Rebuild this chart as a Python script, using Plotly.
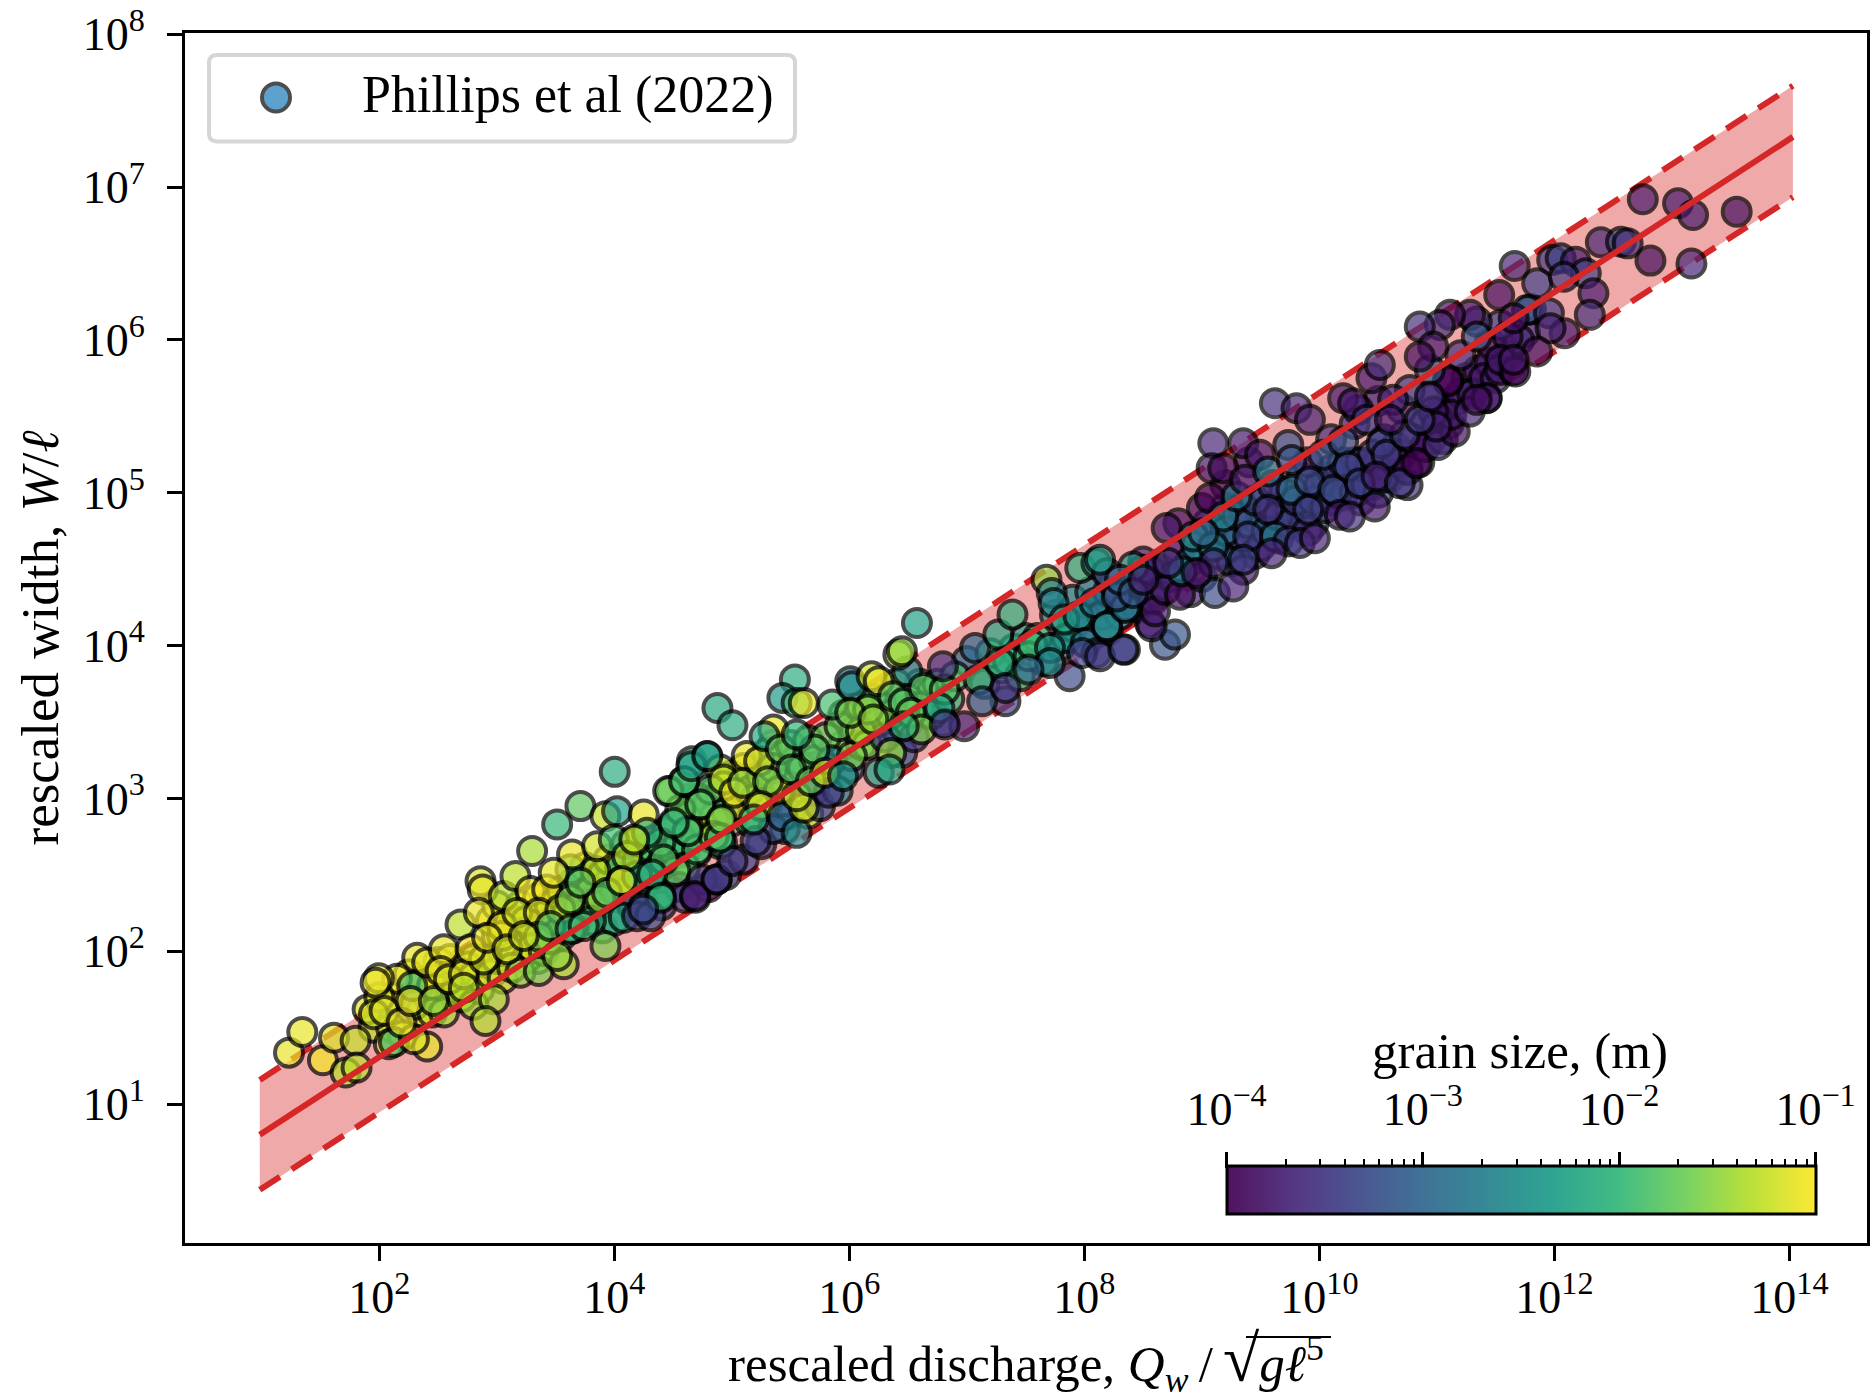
import numpy as np
import plotly.graph_objects as go

FONT = "Liberation Serif"

x_ticks = [1e2, 1e4, 1e6, 1e8, 1e10, 1e12, 1e14]
x_labels = ["10<sup>2</sup>", "10<sup>4</sup>", "10<sup>6</sup>", "10<sup>8</sup>", "10<sup>10</sup>", "10<sup>12</sup>", "10<sup>14</sup>"]
y_ticks = [1e1, 1e2, 1e3, 1e4, 1e5, 1e6, 1e7, 1e8]
y_labels = ["10<sup>1</sup>", "10<sup>2</sup>", "10<sup>3</sup>", "10<sup>4</sup>", "10<sup>5</sup>", "10<sup>6</sup>", "10<sup>7</sup>", "10<sup>8</sup>"]
grain_ticks = [1e-4, 1e-3, 1e-2, 1e-1]
grain_labels = ["10<sup>\u22124</sup>", "10<sup>\u22123</sup>", "10<sup>\u22122</sup>", "10<sup>\u22121</sup>"]
grain_minor = [k * d for d in (1e-4, 1e-3, 1e-2) for k in (2, 3, 4, 5, 6, 7, 8, 9)]

fit_q = [9.6, 1.07e14]
fit_mid = [6.3, 2.13e7]
fit_hi = [14.4, 4.6e7]
fit_lo = [2.75, 8.6e6]

viridis = ["#440154", "#482878", "#3e4989", "#31688e", "#26828e", "#1f9e89", "#35b779", "#6ece58", "#b5de2b", "#fde725"]

# Points hidden deepest in the dense parts of the cloud (drawn first)
deep_q = [
 8.9,9.0,9.1,9.2,9.25,9.3,9.35,9.45,9.5,9.55,
 9.6,9.65,9.7,9.75,9.85,9.85,9.95,10.0,10.05,10.1,
 10.15,10.2,10.25,10.3,10.35,10.4,10.45,10.5,10.55,10.6,
 10.65,10.7,10.75,10.85,10.9,10.95,11.05,11.1,11.15,11.25,
 11.35,11.45,11.6,11.75,
 1.95,2.1,2.2,2.35,2.4,2.55,2.6,2.7,2.8,2.9,
 3.0,3.05,3.15,3.2,3.3,3.35,3.4,3.5,3.55,3.65,
 3.75,3.85,3.9,3.95,4.05,4.1,4.2,4.25,4.35,4.4,
 4.45,4.55,4.6,4.65,4.7,4.8,4.85,4.9,5.0,5.05,
 5.15,5.2,5.3,5.35,5.45,5.5,5.55,5.65,5.7,5.8,
 5.95,6.0,6.1,6.15,6.3,6.4,6.45,6.5,6.6,6.7,
 6.8,
 7.0,7.15,7.3,7.4,7.5,7.65,7.8,7.9,8.0,8.1,
 8.2,8.35,
]
deep_w = [
 4.35,4.6,4.7,4.9,4.65,4.7,4.9,4.6,4.85,5.0,
 4.9,4.7,4.78,4.9,4.85,5.1,4.8,4.95,5.1,4.95,
 5.1,4.98,5.1,5.2,4.95,5.15,5.05,5.2,5.35,5.1,
 5.3,5.25,5.05,5.2,5.45,5.35,5.55,5.45,5.6,5.75,
 5.8,5.85,5.9,6.05,
 1.5,1.5,1.45,1.6,1.72,1.85,1.7,1.85,1.95,1.95,
 2.1,2.0,2.2,2.1,2.15,1.95,2.15,2.32,2.1,2.35,
 2.25,2.45,2.35,2.45,2.35,2.55,2.4,2.55,2.65,2.48,
 2.6,2.85,2.65,3.0,2.65,2.75,3.05,2.7,2.85,3.1,
 2.85,3.15,2.95,3.35,3.1,2.9,3.25,2.9,3.05,3.2,
 3.35,3.2,3.35,3.55,3.6,3.45,3.3,3.5,3.75,3.7,
 3.5,
 3.9,3.75,3.85,3.98,4.05,3.9,4.0,4.12,4.1,4.25,
 4.1,4.3,
]
deep_d = [
 -3.7,-3.3,-3.2,-2.8,-3.5,-3.3,-3.2,-3.5,-3.4,-3.3,
 -3.2,-3.4,-3.3,-3.3,-3.5,-3.3,-3.4,-3.3,-3.4,-3.4,
 -3.5,-3.4,-3.4,-3.3,-3.6,-3.3,-3.5,-3.5,-3.4,-3.8,
 -3.5,-3.6,-3.6,-3.9,-3.8,-3.6,-3.7,-3.8,-3.7,-3.8,
 -3.8,-3.8,-3.9,-3.6,
 -1.3,-1.2,-1.1,-1.1,-1.1,-1.05,-1.1,-1.05,-1.1,-1.05,
 -1.1,-1.2,-1.15,-1.2,-1.1,-1.5,-1.3,-1.2,-1.7,-1.6,
 -1.8,-1.7,-2.0,-1.8,-2.0,-1.9,-2.2,-1.9,-1.8,-2.1,
 -1.9,-1.9,-2.0,-1.8,-1.8,-1.7,-1.8,-1.9,-1.8,-1.6,
 -1.9,-1.4,-1.3,-1.2,-1.7,-3.0,-1.7,-1.3,-3.4,-1.4,
 -1.6,-3.0,-1.6,-1.7,-1.5,-2.4,-3.2,-1.7,-1.8,-1.7,
 -3.4,
 -3.0,-3.2,-2.1,-2.1,-2.3,-2.6,-2.6,-2.6,-2.8,-2.7,
 -3.3,-3.2,
]

# Points hidden in the dense parts of the cloud (drawn next)
under_q = [
 2.25,2.36,2.45,2.5,2.6,2.65,2.75,2.8,2.85,2.95,
 3.0,3.05,3.1,3.15,3.25,3.3,3.4,3.45,2.95,3.0,
 3.1,3.2,3.25,3.35,3.45,3.5,3.55,3.6,3.65,3.7,
 3.75,3.8,3.85,3.9,3.95,4.0,4.05,4.1,4.12,4.2,
 4.28,4.3,4.38,4.45,4.5,4.55,4.6,4.62,4.68,4.72,
 4.75,4.8,4.85,4.9,4.95,5.0,5.05,5.1,5.15,5.2,
 5.25,5.3,5.35,5.4,5.45,5.5,5.6,5.65,5.7,5.75,
 5.8,5.85,5.9,5.95,6.05,6.1,6.15,6.2,6.25,6.3,
 6.35,6.4,6.5,6.55,6.6,6.7,6.75,6.85,6.9,
 7.2,7.35,7.45,7.6,7.75,7.85,7.9,8.0,8.05,8.15,
 8.2,8.3,8.4,8.45,8.5,8.6,8.65,8.75,8.8,8.9,
 8.95,9.0,9.05,9.15,9.2,9.25,9.3,9.4,9.45,9.5,
 9.55,9.65,9.7,9.75,9.8,9.9,9.95,10.0,10.05,10.1,
 10.15,10.2,10.3,10.35,10.4,10.45,10.5,10.55,10.65,10.75,
 10.8,10.9,11.0,11.05,11.2,11.3,11.4,11.5,11.7,11.45,
 11.2,11.8,10.7,10.5,10.3,10.1,9.9,9.6,9.4,9.2,
 9.0,8.8,4.4,4.55,4.6,4.8,4.95,5.1,5.25,5.35,
 3.9,4.0,4.15,3.8,3.65,1.9,2.1,2.15,2.0,2.3,
 2.45,2.55,2.7,2.8,
]
under_w = [
 1.85,1.80,1.78,1.93,1.95,1.75,1.9,1.83,1.75,1.85,
 1.95,1.82,2.05,1.98,1.95,2.02,2.0,2.08,2.2,2.3,
 2.18,2.3,2.2,2.35,2.3,2.2,2.4,2.25,2.45,2.3,
 2.55,2.4,2.3,2.5,2.6,2.4,2.55,2.7,2.4,2.6,
 2.45,2.68,2.55,2.78,2.66,2.72,2.55,2.88,2.75,3.0,
 2.85,2.98,2.88,3.02,2.92,3.15,2.95,3.2,3.05,3.0,
 3.15,3.3,3.2,3.05,2.8,3.35,3.2,3.38,3.25,2.95,
 3.4,3.25,3.05,3.55,3.45,3.6,3.35,3.65,3.5,3.4,
 3.55,3.75,3.65,3.4,3.6,3.55,3.75,3.65,3.8,
 3.95,3.9,3.8,4.05,4.2,4.05,4.3,4.2,4.35,4.2,
 4.35,4.2,4.4,4.25,4.55,4.35,4.5,4.45,4.6,4.55,
 4.65,4.45,4.8,4.6,4.75,4.55,4.85,4.8,4.95,4.65,
 4.75,4.85,5.0,4.8,4.95,4.75,4.95,5.05,4.9,5.15,
 5.0,5.2,5.0,5.2,5.05,5.25,5.0,5.1,5.2,5.15,
 5.35,5.3,5.5,5.35,5.65,5.65,5.75,5.75,6.0,5.98,
 5.9,6.2,5.55,5.6,5.45,5.35,5.2,5.05,5.2,5.05,
 4.9,4.8,2.3,2.42,2.35,2.42,2.5,2.6,2.7,2.8,
 2.15,2.2,2.3,2.2,2.15,1.62,1.7,1.82,1.7,1.65,
 1.6,1.6,1.7,1.65,
]
under_d = [
 -1.1,-1.05,-1.15,-1.1,-1.1,-1.2,-1.1,-1.15,-1.3,-1.2,
 -1.1,-1.25,-1.1,-1.2,-1.4,-1.15,-1.5,-1.6,-1.05,-1.1,
 -1.05,-1.1,-1.15,-1.1,-1.2,-1.5,-1.4,-1.7,-1.9,-1.6,
 -1.4,-1.5,-1.6,-1.3,-1.2,-1.9,-2.0,-1.9,-1.8,-2.0,
 -2.2,-1.8,-1.9,-1.8,-2.0,-1.9,-1.8,-1.7,-1.8,-1.6,
 -1.1,-1.7,-1.3,-1.6,-1.9,-1.2,-1.1,-1.1,-1.3,-1.4,
 -1.5,-1.8,-1.6,-1.2,-2.5,-1.9,-1.8,-1.7,-1.7,-3.3,
 -1.7,-2.5,-2.8,-1.8,-1.6,-1.5,-1.6,-1.9,-1.6,-3.4,
 -1.6,-1.7,-1.7,-3.5,-1.8,-2.0,-1.8,-2.0,-1.9,
 -1.9,-2.1,-2.0,-2.0,-2.5,-2.4,-2.6,-2.8,-2.7,-2.9,
 -3.2,-2.9,-3.2,-3.5,-3.6,-3.7,-3.8,-3.7,-3.8,-2.8,
 -2.7,-3.4,-2.9,-2.8,-2.9,-3.2,-3.6,-3.1,-3.3,-3.5,
 -3.1,-3.4,-3.3,-3.4,-3.4,-3.6,-3.4,-3.4,-3.5,-3.4,
 -3.3,-3.3,-3.5,-3.5,-3.4,-3.5,-3.4,-3.5,-3.7,-3.9,
 -3.6,-3.9,-3.8,-3.8,-3.8,-3.7,-3.8,-3.7,-3.7,-3.9,
 -3.6,-3.7,-3.6,-3.7,-3.6,-3.6,-3.7,-3.5,-3.8,-3.9,
 -3.9,-3.9,-3.5,-3.6,-3.5,-3.5,-3.4,-3.4,-3.5,-3.3,
 -2.3,-2.1,-3.3,-2.0,-2.1,-1.15,-1.2,-1.1,-1.15,-1.5,
 -1.3,-1.4,-1.4,-1.4,
]

# log10 of the values, row by row in the three lists
log_q = [
 1.231,1.344,1.52,1.614,1.798,1.713,1.806,2.081,2.124,2.407,
 2.294,1.954,1.996,1.968,2.044,2.189,2.28,2.266,2.464,2.322,
 2.407,2.549,2.521,2.592,2.719,2.889,2.719,2.974,2.903,3.13,
 3.2,3.357,2.861,2.88,2.691,2.847,3.059,3.158,3.3,3.286,
 3.428,3.045,3.045,3.173,3.357,3.357,3.541,3.626,3.64,3.513,
 3.711,4.003,3.924,4.023,4.25,3.839,3.853,4.179,4.066,3.995,
 3.626,3.881,3.569,3.924,4.08,4.25,4.391,4.335,4.519,4.746,
 4.873,4.689,4.477,4.59,4.732,4.618,4.902,4.505,4.391,4.66,
 4.788,4.902,4.93,4.916,2.776,2.917,3.088,3.229,3.456,3.626,
 3.739,3.513,3.938,4.193,3.711,3.484,4.108,4.278,4.42,4.703,
 4.845,4.817,4.561,4.193,4.306,
 4.169,4.321,4.063,4.397,4.245,4.686,4.868,5.005,5.202,4.898,
 4.625,4.504,4.458,4.595,4.655,4.792,4.731,4.929,4.914,5.02,
 5.126,5.096,5.232,5.354,5.278,5.415,5.308,5.506,5.247,5.703,
 5.551,5.187,5.43,5.551,5.612,5.551,5.824,5.673,5.794,5.916,
 5.855,5.536,5.43,5.551,5.612,4.877,5.005,6.022,5.946,6.007,
 6.022,6.189,6.25,6.098,6.159,6.007,6.204,6.356,6.25,6.341,
 6.371,6.493,6.417,6.447,6.575,6.462,6.629,6.811,6.523,6.614,
 6.462,6.766,6.796,6.978,6.812,7.099,7.07,7.267,7.388,7.282,
 7.328,7.13,7.328,7.525,7.555,7.707,7.677,7.874,7.965,7.722,
 7.738,7.829,7.95,8.011,8.102,8.345,7.98,8.193,8.36,8.087,
 8.284,8.558,8.497,8.102,8.558,8.588,8.193,7.707,7.525,
 8.133,8.331,8.686,8.771,8.572,8.601,8.19,8.346,8.275,8.416,
 8.133,8.686,8.813,8.827,8.70,8.714,8.927,9.097,9.352,9.083,
 9.182,9.068,9.182,9.295,9.366,9.494,9.564,9.735,9.763,9.097,
 9.097,9.352,9.111,9.267,9.394,9.352,9.564,9.621,9.735,9.834,
 9.961,9.593,9.763,9.919,9.904,10.117,10.032,10.202,10.245,10.174,
 10.259,10.471,10.344,10.528,10.57,10.486,10.684,10.826,10.727,11.01,
 11.152,11.123,11.279,11.421,10.953,11.095,10.769,10.33,10.202,10.443,
 10.514,9.621,9.805,9.919,10.967,10.996,10.854,11.534,11.648,10.627,
 10.287,10.401,10.599,8.955,9.012,8.303,8.416,8.501,
 13.551,12.752,13.052,13.18,13.166,12.817,12.395,12.566,12.623,11.662,
 11.981,12.053,12.181,12.267,11.853,12.081,12.332,11.53,11.767,11.953,
 12.301,12.087,11.967,11.853,11.539,11.339,11.282,11.339,11.602,11.539,
 11.667,11.653,11.111,11.025,10.854,11.097,10.94,10.94,11.425,10.968,
 10.854,11.339,11.653,
]
log_w = [
 1.337,1.472,1.287,1.435,1.414,1.207,1.239,1.392,1.407,1.377,
 1.425,1.588,1.823,1.795,1.61,1.533,1.773,1.675,1.675,1.958,
 1.926,2.013,1.871,1.817,1.849,1.947,1.762,1.686,1.544,1.893,
 1.86,1.871,2.459,2.405,2.176,2.252,2.361,2.492,2.656,2.394,
 2.405,2.1,2.165,2.252,2.252,2.096,2.274,2.536,2.634,2.83,
 2.95,3.174,2.884,2.917,2.895,2.525,2.688,2.721,2.459,2.732,
 2.34,2.34,1.915,2.035,2.22,2.296,2.361,2.514,2.525,2.47,
 2.47,2.35,3.048,3.113,2.96,2.786,2.852,2.83,2.71,3.244,
 3.276,3.19,3.08,2.71,2.013,2.089,2.013,2.1,2.165,2.144,
 2.165,1.969,2.383,2.492,2.449,2.514,2.623,2.775,2.6,2.666,
 2.754,3.059,2.928,2.23,2.23,
 2.732,2.503,2.46,2.351,2.274,2.362,2.47,2.59,2.721,2.743,
 2.786,2.841,3.048,3.113,3.211,3.277,2.961,3.124,2.863,3.037,
 3.277,3.102,3.244,3.451,3.407,3.32,3.113,3.19,2.95,3.32,
 3.418,2.862,2.884,2.775,2.939,3.015,3.037,3.113,3.168,3.473,
 3.614,3.778,3.658,3.625,3.625,3.592,3.479,3.277,3.146,3.767,
 3.734,3.8,3.767,3.44,3.582,3.56,3.516,3.298,3.168,3.19,
 3.669,3.832,3.941,3.963,4.148,3.625,3.723,3.712,3.56,3.451,
 3.473,3.592,3.865,3.473,3.484,3.778,3.985,4.072,4.203,3.887,
 3.636,3.636,3.723,3.93,4.006,3.985,4.431,3.8,4.508,4.344,
 4.279,4.17,4.192,4.017,3.952,3.974,3.952,4.126,4.257,4.279,
 4.344,4.148,4.497,4.54,4.497,4.301,4.475,3.887,3.843,
 3.93,3.974,4.006,4.072,4.126,4.224,4.126,4.246,4.322,4.518,
 4.562,4.366,4.333,4.486,4.769,4.54,4.714,5.324,5.324,5.161,
 5.161,4.965,4.845,4.976,5.085,5.248,5.139,5.313,5.215,4.649,
 4.54,4.496,4.344,4.387,4.714,4.562,4.889,4.714,4.682,4.671,
 4.703,4.605,5.019,5.074,4.889,5.019,5.248,5.335,5.172,4.856,
 4.845,4.91,5.063,5.324,5.248,5.106,5.063,5.194,5.379,5.313,
 5.4,5.51,5.531,5.618,5.618,5.738,5.673,5.542,5.618,5.749,
 5.836,5.586,5.553,5.477,5.531,5.433,5.477,5.804,5.804,5.608,
 5.586,5.477,5.477,4.475,4.736,4.431,4.344,4.431,
 6.839,6.92,6.894,6.817,6.5,6.519,6.639,6.643,6.632,6.484,
 6.523,6.534,6.512,6.436,6.371,6.414,6.305,6.294,6.196,6.175,
 6.164,6.044,6.077,5.924,6.098,6.12,6.164,6.022,6.022,5.87,
 5.793,5.87,6.164,6.098,6.087,5.728,5.804,5.63,5.62,5.957,
 5.891,5.608,6.142,
]
log_d = [
 -1.1,-1.1,-1.05,-1.15,-1.25,-1.3,-1.3,-1.15,-1.9,-1.1,
 -1.15,-1.2,-1.05,-1.1,-1.15,-1.1,-1.9,-1.1,-1.5,-1.1,
 -1.1,-1.1,-1.1,-1.15,-1.15,-1.2,-1.3,-1.4,-1.35,-1.25,
 -1.5,-1.6,-1.15,-1.1,-1.3,-1.1,-1.35,-1.3,-1.4,-1.05,
 -1.05,-1.05,-1.1,-1.2,-1.15,-1.5,-1.25,-2.0,-1.1,-2.0,
 -1.75,-2.15,-1.25,-2.3,-1.1,-1.35,-1.2,-1.4,-1.3,-1.9,
 -1.6,-1.5,-1.4,-1.6,-2.2,-3.3,-2.1,-2.2,-1.7,-3.5,
 -3.5,-3.8,-1.6,-1.9,-1.7,-1.8,-1.4,-1.8,-1.9,-2.2,
 -2.3,-1.3,-1.1,-2.0,-1.1,-1.1,-1.2,-1.2,-1.8,-2.0,
 -1.9,-1.5,-1.8,-2.0,-1.7,-1.1,-1.3,-2.1,-1.8,-1.9,
 -1.5,-1.8,-1.7,-3.5,-3.3,
 -1.3,-2.1,-1.2,-2.0,-3.3,-3.7,-3.5,-3.5,-3.4,-1.9,
 -1.9,-2.0,-1.7,-1.9,-2.3,-2.3,-1.8,-1.3,-1.6,-1.1,
 -1.1,-1.5,-1.2,-1.1,-2.2,-1.7,-1.6,-1.8,-1.2,-1.8,
 -2.0,-2.0,-3.0,-2.6,-1.2,-1.25,-3.5,-1.7,-1.2,-1.7,
 -1.9,-2.15,-2.4,-1.9,-1.1,-2.2,-2.15,-1.6,-2.4,-2.8,
 -2.5,-1.2,-1.1,-1.4,-1.5,-1.6,-1.5,-1.5,-2.3,-2.2,
 -1.8,-2.6,-1.3,-1.5,-2.3,-1.8,-1.8,-1.8,-1.7,-1.6,
 -2.0,-2.2,-3.6,-3.7,-3.5,-1.95,-3.0,-2.2,-2.1,-2.1,
 -3.4,-3.1,-3.5,-1.95,-1.95,-2.4,-1.5,-3.3,-2.1,-2.7,
 -2.6,-2.2,-2.5,-2.8,-3.4,-3.5,-3.4,-2.8,-2.8,-2.8,
 -3.2,-3.7,-2.6,-2.6,-3.8,-3.8,-3.2,-2.6,-3.0,
 -3.5,-3.4,-3.2,-3.2,-3.7,-3.8,-2.5,-2.8,-3.2,-2.4,
 -2.3,-3.7,-3.9,-2.7,-3.8,-3.6,-2.6,-3.7,-3.8,-3.8,
 -3.9,-4.0,-2.7,-2.8,-3.8,-3.8,-2.8,-3.2,-3.2,-2.8,
 -3.6,-3.8,-3.3,-3.7,-3.4,-3.4,-3.6,-2.8,-3.5,-3.5,
 -3.7,-3.7,-2.9,-3.3,-3.4,-3.3,-3.2,-3.2,-3.4,-3.8,
 -3.6,-3.8,-3.4,-3.4,-3.5,-3.7,-3.5,-4.0,-3.5,-3.6,
 -3.9,-3.8,-3.7,-3.8,-3.5,-3.9,-3.4,-3.4,-3.8,-3.8,
 -3.6,-3.6,-3.7,-3.7,-3.8,-3.7,-3.5,-3.8,-4.0,-3.7,
 -3.8,-3.5,-3.8,-3.9,-3.0,-3.0,-3.2,-3.7,
 -3.9,-3.8,-3.8,-3.8,-3.7,-3.9,-3.7,-3.3,-3.6,-3.7,
 -3.5,-3.4,-3.8,-3.4,-3.4,-3.5,-3.8,-3.9,-3.1,-3.5,
 -3.6,-3.8,-3.7,-3.9,-3.4,-3.6,-3.8,-3.2,-3.8,-3.8,
 -3.9,-3.8,-3.9,-3.6,-3.6,-4.0,-3.2,-3.6,-3.8,-3.8,
 -3.9,-3.9,-3.9,
]

# page geometry
FW, FH = 1870, 1400
L, R, T, B = 185.0, 1867.0, 32.5, 1243.0
W, H = R - L, B - T
px = lambda v: (v - L) / W
py = lambda v: (B - v) / H

CB_L, CB_R, CB_T, CB_B = 1226.5, 1815.5, 1168.5, 1216.5

TICK_FONT = dict(family=FONT, size=46, color="black")
TEXT_FONT = dict(family=FONT, size=51, color="black")

def rgba(c, a):
    return f"rgba({int(c[1:3],16)},{int(c[3:5],16)},{int(c[5:7],16)},{a})"

scale = [[i / (len(viridis) - 1), rgba(c, 0.93)] for i, c in enumerate(viridis)]

fig = go.Figure()

fig.add_trace(go.Scatter(x=fit_q, y=fit_lo, mode="lines", showlegend=False, hoverinfo="skip",
                         line=dict(color="#d62728", width=6, dash="24px,14px")))
fig.add_trace(go.Scatter(x=fit_q, y=fit_hi, mode="lines", showlegend=False, hoverinfo="skip",
                         fill="tonexty", fillcolor="rgba(214,39,40,0.4)",
                         line=dict(color="#d62728", width=6, dash="24px,14px")))

all_q = np.array(deep_q + under_q + log_q)
all_w = np.array(deep_w + under_w + log_w)
all_d = deep_d + under_d + log_d

fig.add_trace(go.Scatter(
    x=10 ** all_q, y=10 ** all_w, mode="markers", name="Phillips et al (2022)",
    showlegend=False,
    marker=dict(size=28, color=all_d, coloraxis="coloraxis", opacity=0.75,
                line=dict(color="rgba(0,0,0,0.93)", width=4)),
))
fig.add_trace(go.Scatter(x=fit_q, y=fit_mid, mode="lines", showlegend=False, hoverinfo="skip",
                         line=dict(color="#d62728", width=6)))

# axis that carries the colour bar's ticks, on top of the bar as in the source
fig.add_trace(go.Scatter(x=grain_ticks, y=[0.5] * len(grain_ticks), xaxis="x2", yaxis="y2",
                         mode="markers", marker=dict(opacity=0), showlegend=False, hoverinfo="skip"))

axis_common = dict(showgrid=False, zeroline=False, showline=True, linecolor="black", linewidth=3,
                   mirror=True, ticks="outside", ticklen=15, tickwidth=3, tickcolor="black",
                   tickfont=TICK_FONT, tickmode="array")

# rounded legend box
lx0, lx1, ly0, ly1, rad = 209.0, 795.0, 54.5, 141.0, 8.0
legend_path = (
    f"M {px(lx0+rad)} {py(ly0)} L {px(lx1-rad)} {py(ly0)} Q {px(lx1)} {py(ly0)} {px(lx1)} {py(ly0+rad)} "
    f"L {px(lx1)} {py(ly1-rad)} Q {px(lx1)} {py(ly1)} {px(lx1-rad)} {py(ly1)} "
    f"L {px(lx0+rad)} {py(ly1)} Q {px(lx0)} {py(ly1)} {px(lx0)} {py(ly1-rad)} "
    f"L {px(lx0)} {py(ly0+rad)} Q {px(lx0)} {py(ly0)} {px(lx0+rad)} {py(ly0)} Z"
)
shapes = [
    dict(type="path", xref="paper", yref="paper", path=legend_path, layer="above",
         fillcolor="rgba(255,255,255,0.8)", line=dict(color="#d6d6d6", width=4)),
    dict(type="circle", xref="paper", yref="paper", layer="above",
         x0=px(276 - 14), x1=px(276 + 14), y0=py(97 + 14), y1=py(97 - 14),
         fillcolor="#5da1cf", line=dict(color="#4d4d4d", width=4)),
    # vinculum of the square root in the x title
    dict(type="line", xref="paper", yref="paper", layer="above",
         x0=px(1246), x1=px(1331), y0=py(1337), y1=py(1337), line=dict(color="black", width=2)),
]
annotations = [
    dict(text="Phillips et al (2022)", xref="paper", yref="paper", x=px(360), y=py(95),
         xanchor="left", yanchor="middle", showarrow=False, font=dict(family=FONT, size=52, color="black")),
    dict(text="grain size, (m)", xref="paper", yref="paper", x=px(1520), y=py(1051),
         xanchor="center", yanchor="middle", showarrow=False, font=TEXT_FONT),
]

fig.update_layout(
    width=FW, height=FH, autosize=False, paper_bgcolor="white", plot_bgcolor="white",
    font=dict(family=FONT, size=46, color="black"),
    margin=dict(l=L, r=FW - R, t=T, b=FH - B, pad=0, autoexpand=False),
    showlegend=False,
    xaxis=dict(type="log", range=[0.346, 14.66], tickvals=x_ticks, ticktext=x_labels, ticklabelstandoff=-3,
               title=dict(text="rescaled discharge, <i>Q<sub>w</sub></i>\u2009/\u2009<span style=\"font-size:66px\">\u221a</span><i>g\u2113</i><sup>5</sup>\u2009\u2009",
                          font=TEXT_FONT, standoff=30),
               **axis_common),
    yaxis=dict(type="log", range=[0.0915, 8.008], tickvals=y_ticks, ticktext=y_labels,
               ticklabelstandoff=13,
               title=dict(text="rescaled width, <i>W</i>/<i>\u2113</i>", font=dict(family=FONT, size=53, color="black"), standoff=8),
               **axis_common),
    xaxis2=dict(type="log", range=[-4, -1], domain=[px(CB_L), px(CB_R)], anchor="y2", side="top",
                tickmode="array", tickvals=grain_ticks, ticktext=grain_labels, tickfont=TICK_FONT,
                ticks="outside", ticklen=16, tickwidth=3, tickcolor="black", ticklabelstandoff=8,
                minor=dict(tickmode="array", tickvals=grain_minor, ticks="outside", ticklen=9, tickwidth=2, tickcolor="black"),
                showgrid=False, zeroline=False, showline=False),
    yaxis2=dict(domain=[py(CB_B), py(CB_T)], anchor="x2", visible=False, range=[0, 1]),
    coloraxis=dict(
        cmin=-4, cmax=-1, colorscale=scale,
        colorbar=dict(orientation="h", x=px(CB_L), xanchor="left", y=py(CB_B), yanchor="bottom",
                      len=CB_R - CB_L, lenmode="pixels", thickness=CB_B - CB_T, thicknessmode="pixels",
                      xpad=0, ypad=0, outlinewidth=3, outlinecolor="black", showticklabels=False, ticks="",
                      bgcolor="rgba(0,0,0,0)", borderwidth=0),
    ),
    shapes=shapes, annotations=annotations,
)

fig.write_html("out.html", config=dict(displayModeBar=False), post_script="document.body.style.margin='0';")
